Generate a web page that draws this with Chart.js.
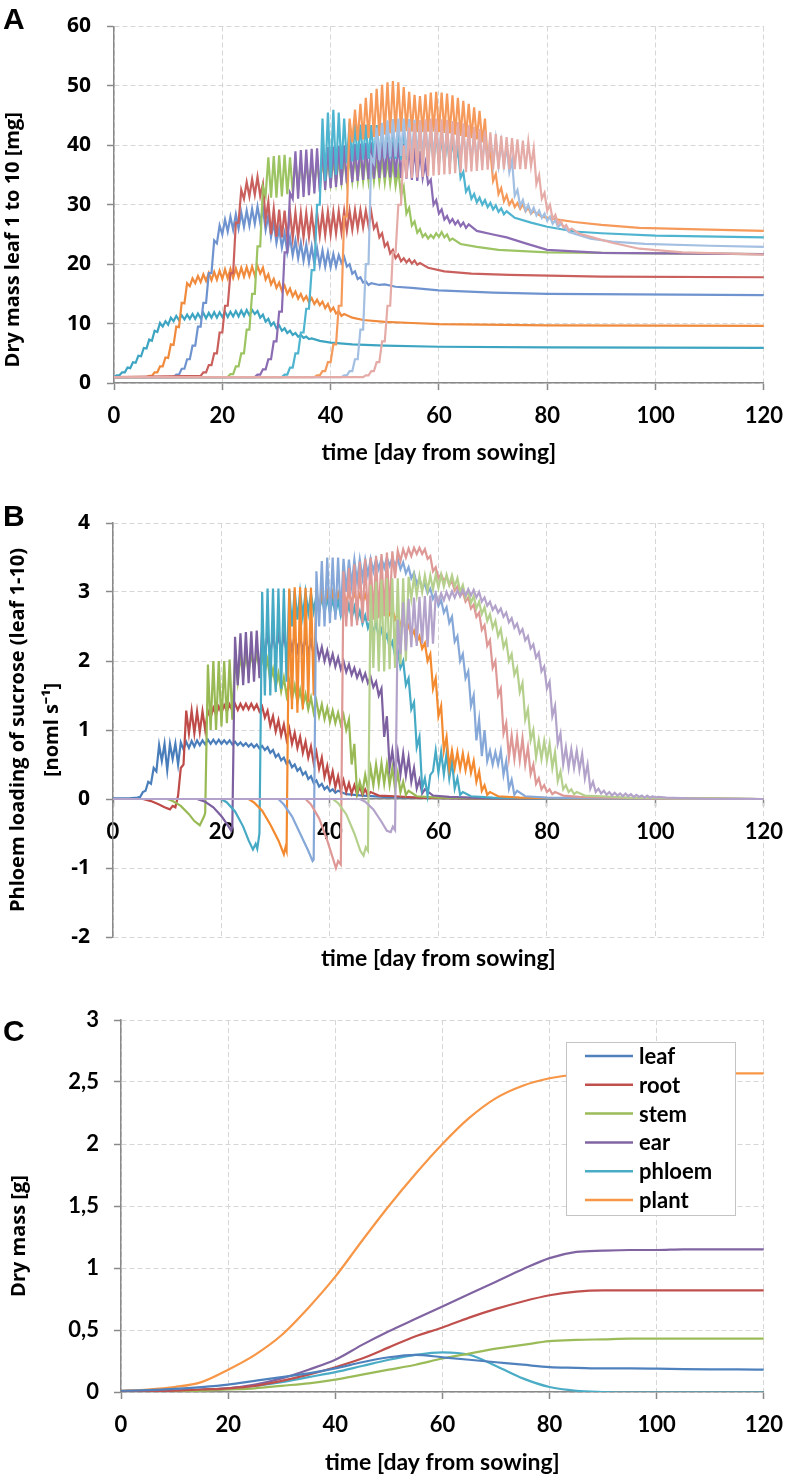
<!DOCTYPE html>
<html>
<head>
<meta charset="utf-8">
<script src="https://cdn.jsdelivr.net/npm/chart.js@4.4.1/dist/chart.umd.min.js"></script>
<style>
    body { margin: 0; background: #fff; }
    #page { position: relative; width: 796px; height: 1476px; overflow: hidden; }
    canvas { position: absolute; left: 0; }
    .panel { position: absolute; left: 3px; font: bold 30px "Liberation Sans", Arial, sans-serif; line-height: 30px; color: #000; }
</style>
</head>
<body>
<div id="page">
    <canvas id="graficoA" width="796" height="466" style="top:0px"></canvas>
    <canvas id="graficoB" width="796" height="506" style="top:466px"></canvas>
    <canvas id="graficoC" width="796" height="504" style="top:972px"></canvas>
    <div class="panel" style="top:4px">A</div>
    <div class="panel" style="top:501px">B</div>
    <div class="panel" style="top:1016px">C</div>
</div>
<script>
// tick labels
const xTickLabels = ["0", "20", "40", "60", "80", "100", "120"];
const aYTickLabels = ["0", "10", "20", "30", "40", "50", "60"];
const bYTickLabels = ["-2", "-1", "0", "1", "2", "3", "4"];
const cYTickLabels = ["0", "0,5", "1", "1,5", "2", "2,5", "3"];

// ---- Panel A: dry mass of leaf 1..10 [mg]
// values alternate night (whole day) / midday (day + 0.5), starting at startsA[i]
const baseA = 1;
const startsA = [0, 6, 11, 16, 21, 26, 31, 37, 42, 46];

const leafA1 = [
    1.0, 1.3, 1.3, 1.8, 1.8, 2.6, 2.5, 3.5, 3.4, 4.6,
    4.5, 5.9, 5.8, 7.3, 7.1, 8.8, 8.6, 10.1, 9.5, 10.4,
    9.8, 11.0, 10.4, 11.3, 10.6, 11.4, 10.7, 11.5, 10.8, 11.6,
    10.8, 11.7, 10.9, 11.8, 10.9, 11.8, 11.0, 11.9, 11.0, 11.9,
    11.1, 12.0, 11.1, 12.0, 11.2, 12.1, 11.2, 12.2, 11.3, 12.3,
    11.4, 12.3, 11.6, 12.1, 11.0, 11.5, 10.3, 10.8, 9.7, 10.2,
    9.2, 9.7, 8.8, 9.2, 8.4, 8.8, 8.1, 8.4, 7.8, 8.1,
    7.6, 7.8, 7.4, 7.5,
];
const leafA2 = [
    1.0, 1.2, 1.2, 1.8, 1.8, 2.8, 2.8, 4.3, 4.2, 6.5,
    6.4, 9.5, 9.4, 13.5, 13.4, 16.8, 16.3, 17.6, 16.8, 18.0,
    17.0, 18.3, 17.2, 18.5, 17.3, 18.7, 17.4, 18.9, 17.5, 19.1,
    17.6, 19.2, 17.7, 19.3, 17.8, 19.4, 17.9, 19.5, 18.0, 19.6,
    18.1, 19.7, 18.4, 19.4, 17.4, 18.3, 16.6, 17.5, 16.0, 16.9,
    15.5, 16.4, 15.0, 15.9, 14.6, 15.4, 14.2, 15.0, 13.9, 14.6,
    13.6, 14.3, 13.3, 14.0, 13.1, 13.7, 12.6, 13.3, 12.1, 12.7,
    11.7, 12.1, 11.3, 11.6,
];
const leafA3 = [
    1.0, 1.4, 1.4, 2.4, 2.4, 4.0, 4.0, 6.3, 6.3, 9.5,
    9.5, 13.5, 13.5, 18.5, 18.5, 24.0, 23.5, 26.5, 25.0, 27.5,
    25.5, 28.0, 25.8, 28.4, 26.0, 28.7, 26.3, 29.0, 26.5, 29.3,
    26.8, 29.7, 27.0, 29.5, 25.8, 28.2, 24.6, 27.0, 23.6, 26.0,
    22.8, 25.2, 22.0, 24.5, 21.5, 24.0, 21.0, 23.6, 20.6, 23.3,
    20.3, 23.0, 20.0, 22.6, 19.8, 22.3, 19.6, 22.0, 19.5, 21.7,
    19.6, 21.5, 20.2, 21.2, 19.6, 20.0, 18.4, 18.8, 17.5, 17.8,
    16.9, 17.1, 16.5, 16.8,
];
const leafA4 = [
    1.2, 1.8, 1.8, 3.0, 3.0, 5.0, 5.0, 8.5, 8.5, 13.0,
    13.0, 18.5, 18.5, 27.0, 27.0, 32.5, 31.0, 33.8, 31.4, 34.3,
    31.7, 34.7, 31.5, 33.5, 27.5, 30.5, 25.0, 29.3, 24.6, 29.2,
    24.5, 29.0, 24.4, 28.8, 24.4, 28.7, 24.4, 28.6, 24.5, 28.6,
    24.6, 28.6, 24.7, 28.7, 24.8, 28.7, 24.9, 28.8, 25.0, 28.8,
    25.2, 28.9, 25.4, 29.0, 25.6, 29.0, 25.8, 29.1, 26.0, 29.1,
    26.2, 29.0, 26.4, 28.8, 26.0, 26.8, 24.5, 25.2, 23.0, 23.6,
    21.8, 22.4, 21.0, 21.6, 20.5, 21.0, 20.3, 20.8, 20.1, 20.6,
    19.9, 20.2,
];
const leafA5 = [
    1.0, 1.5, 1.5, 2.8, 2.8, 5.0, 5.0, 9.0, 9.0, 15.0,
    15.0, 23.0, 23.0, 33.0, 31.5, 38.0, 31.2, 38.2, 31.2, 38.3,
    31.4, 38.4, 31.8, 38.0, 32.2, 37.5, 32.5, 37.3, 32.8, 37.2,
    33.0, 37.2, 33.2, 37.3, 33.4, 37.4, 33.5, 37.5, 33.6, 37.6,
    33.7, 37.7, 33.8, 37.8, 33.9, 37.9, 34.0, 38.0, 34.0, 38.0,
    34.0, 38.0, 34.0, 38.0, 34.0, 37.9, 33.9, 37.8, 33.8, 37.6,
    33.6, 37.2, 33.2, 36.0, 31.5, 33.0, 28.5, 29.5, 26.5, 27.2,
    25.3, 25.9, 24.6, 25.1, 24.3, 24.9, 24.4, 25.2, 24.6, 25.4,
    24.5, 25.0, 24.0, 24.3,
];
const leafA6 = [
    1.0, 1.4, 1.4, 2.3, 2.3, 4.0, 4.0, 7.0, 7.0, 12.0,
    12.0, 22.0, 22.0, 32.0, 31.0, 39.0, 31.0, 39.2, 31.3, 39.3,
    31.6, 39.4, 31.9, 39.5, 32.2, 39.6, 32.5, 39.7, 32.8, 39.8,
    33.0, 39.9, 33.3, 40.0, 33.6, 40.1, 33.8, 40.2, 34.0, 40.3,
    34.2, 40.4, 34.3, 40.5, 34.4, 40.5, 34.5, 40.6, 34.6, 40.6,
    34.6, 40.6, 34.6, 40.5, 34.5, 40.3, 34.4, 40.0, 34.2, 39.6,
    34.0, 39.0, 34.5, 37.0, 33.5, 34.2, 30.0, 30.8, 28.5, 29.2,
    27.5, 28.1, 27.0, 27.6, 26.7, 27.3, 26.4, 27.0, 26.1, 26.7,
];
const leafA7 = [
    1.0, 1.4, 1.4, 2.6, 2.6, 5.0, 5.0, 8.5, 8.5, 12.5,
    12.5, 19.0, 19.0, 30.0, 30.0, 44.5, 34.0, 45.5, 34.5, 46.0,
    35.0, 45.5, 36.0, 44.5, 37.0, 43.8, 37.3, 43.6, 37.5, 43.5,
    37.6, 43.5, 37.7, 43.4, 37.8, 43.4, 37.8, 43.3, 37.8, 43.2,
    37.8, 43.1, 37.7, 43.0, 37.6, 42.9, 37.5, 42.8, 37.4, 42.7,
    37.3, 42.5, 37.2, 42.3, 37.1, 42.1, 37.0, 41.9, 36.9, 41.6,
    36.8, 41.3, 36.7, 41.0, 37.0, 39.5, 34.5, 35.5, 32.2, 33.0,
    31.0, 31.8, 30.4, 31.2, 30.0, 30.8, 29.6, 30.3, 29.2, 29.9,
    28.8, 29.4, 28.4, 28.9,
];
const leafA8 = [
    1.0, 1.3, 1.3, 2.0, 2.0, 3.5, 3.5, 6.5, 6.5, 13.0,
    13.0, 28.0, 28.0, 44.5, 40.5, 46.0, 40.8, 47.0, 41.0, 48.0,
    41.2, 48.8, 41.4, 49.5, 41.6, 50.2, 41.8, 50.6, 42.0, 50.8,
    42.2, 50.6, 42.3, 49.8, 42.4, 49.0, 42.3, 48.5, 42.2, 48.3,
    42.2, 48.6, 42.3, 48.9, 42.3, 49.0, 42.2, 48.9, 42.1, 48.7,
    42.0, 48.4, 41.8, 48.0, 41.6, 47.5, 41.4, 47.0, 41.2, 46.4,
    41.0, 45.8, 40.5, 44.5, 37.5, 39.0, 34.0, 35.2, 31.8, 32.8,
    30.6, 31.6, 30.0, 30.8, 29.6, 30.3, 29.3, 30.1, 28.9, 29.5,
    28.5, 28.9,
];
const leafA9 = [
    1.0, 1.3, 1.3, 2.0, 2.0, 4.0, 4.0, 9.0, 9.0, 20.0,
    20.0, 38.0, 37.0, 43.0, 37.5, 43.8, 37.8, 44.2, 38.0, 44.4,
    38.1, 44.5, 38.2, 44.5, 38.2, 44.4, 38.2, 44.3, 38.2, 44.2,
    38.1, 44.0, 38.0, 43.8, 37.9, 43.6, 37.8, 43.4, 37.7, 43.2,
    37.6, 43.0, 37.5, 42.8, 37.4, 42.6, 37.3, 42.4, 37.2, 42.2,
    37.1, 42.0, 37.0, 41.7, 36.9, 41.4, 36.8, 41.0, 36.7, 40.5,
    36.6, 39.8, 35.5, 37.5, 31.5, 32.5, 29.8, 30.8, 29.0, 30.0,
    28.6, 29.5, 28.2, 29.0, 27.8, 28.5, 27.3, 28.0, 26.8, 27.4,
    26.2, 26.8,
];
const leafA10 = [
    1.0, 1.3, 1.3, 2.0, 2.0, 3.5, 3.5, 7.0, 7.0, 13.0,
    13.0, 22.0, 22.0, 30.0, 30.0, 40.0, 34.5, 43.0, 34.5, 43.8,
    34.6, 44.2, 34.7, 44.4, 34.8, 44.5, 34.9, 44.5, 35.0, 44.4,
    35.1, 44.3, 35.2, 44.1, 35.3, 43.9, 35.4, 43.7, 35.5, 43.4,
    35.6, 43.1, 35.7, 42.8, 35.8, 42.5, 35.9, 42.2, 36.0, 41.9,
    36.0, 41.6, 36.0, 41.4, 36.0, 41.2, 36.0, 41.0, 36.0, 40.8,
    36.0, 40.6, 36.5, 39.5, 33.5, 35.0, 31.0, 32.0, 29.0, 30.0,
    27.6, 28.3, 26.8, 27.3, 26.2, 26.6, 25.7, 26.0,
];

const tailA1 = [[38, 7.1], [40, 6.8], [44, 6.5], [50, 6.3], [60, 6.1], [80, 6.0], [120, 5.9]];
const tailA2 = [[44, 11.0], [46, 10.6], [50, 10.3], [55, 10.1], [60, 9.9], [80, 9.7], [120, 9.6]];
const tailA3 = [[49, 16.5], [50, 16.6], [52, 16.2], [55, 16.0], [60, 15.6], [70, 15.2], [80, 15.0], [120, 14.8]];
const tailA4 = [[58, 19.4], [61, 18.8], [66, 18.4], [73, 18.2], [90, 17.9], [120, 17.8]];
const tailA5 = [[64, 23.4], [67, 22.9], [71, 22.4], [80, 22.0], [100, 21.8], [120, 21.7]];
const tailA6 = [[67, 25.6], [70, 25.0], [72.5, 24.5], [76, 23.5], [80, 22.4], [90, 21.9], [120, 21.7]];
const tailA7 = [[74, 27.8], [77, 27.0], [80, 26.3], [85, 25.5], [90, 25.2], [100, 24.8], [120, 24.5]];
const tailA8 = [[79, 28.0], [82, 27.5], [85, 27.1], [90, 26.6], [97, 26.1], [110, 25.8], [120, 25.6]];
const tailA9 = [[84, 25.4], [88, 24.3], [92, 23.8], [98, 23.4], [110, 23.1], [120, 22.9]];
const tailA10 = [[86, 25.1], [88, 24.6], [92, 23.6], [97, 22.6], [105, 22.0], [120, 21.6]];

const colorsA = ["#3DA5C2", "#F08A3C", "#6F93CF", "#C9605D", "#9DC463", "#8B6CB3", "#4FB4CF", "#F69A5B", "#A3BFE2", "#E5ABA7"];

// ---- Panel B: phloem loading of sucrose, leaf 1..10
const startsB = [5, 12, 17, 22, 27, 32, 37, 42, 47, 52];

const headB1 = [[0, 0.01], [3, 0.01], [4.5, 0.02]];
const headB2 = [[0, 0], [5.5, 0], [7, -0.03], [8.5, -0.08], [9.5, -0.12], [10.5, -0.15], [11, -0.1], [11.5, -0.12]];
const headB3 = [[0, 0], [10, 0], [11, -0.03], [12.5, -0.1], [14, -0.22], [15, -0.32], [16, -0.38], [16.5, -0.3], [16.8, -0.25]];
const headB4 = [[0, 0], [15.5, 0], [17, -0.04], [18.5, -0.12], [20, -0.25], [21, -0.36], [21.8, -0.46]];
const headB5 = [[0, 0], [20, 0], [21, -0.05], [22.5, -0.18], [24, -0.4], [25, -0.6], [25.8, -0.73], [26.3, -0.65], [26.6, -0.72]];
const headB6 = [[0, 0], [25, 0], [26, -0.05], [27.5, -0.17], [29, -0.37], [30.5, -0.6], [31.5, -0.8], [31.8, -0.7]];
const headB7 = [[0, 0], [30.5, 0], [31.5, -0.08], [33, -0.25], [34.5, -0.5], [36, -0.75], [36.8, -0.9]];
const headB8 = [[0, 0], [35.5, 0], [36.5, -0.08], [38, -0.28], [39.5, -0.6], [40.5, -0.85], [41.1, -1.0], [41.5, -0.9]];
const headB9 = [[0, 0], [40.5, 0], [41.5, -0.06], [43, -0.22], [44.5, -0.5], [45.6, -0.75], [46.2, -0.82], [46.6, -0.7]];
const headB10 = [[0, 0], [45.5, 0], [46.5, -0.04], [48, -0.15], [49.5, -0.33], [50.5, -0.46], [51.2, -0.48], [51.6, -0.4]];

const leafB1 = [
    0.03, 0.1, 0.12, 0.25, 0.22, 0.45, 0.4, 0.78, 0.55, 0.8,
    0.42, 0.8, 0.58, 0.8, 0.5, 0.82, 0.72, 0.83, 0.74, 0.84,
    0.76, 0.85, 0.78, 0.85, 0.79, 0.86, 0.8, 0.86, 0.8, 0.86,
    0.8, 0.85, 0.8, 0.85, 0.79, 0.83, 0.78, 0.82, 0.77, 0.81,
    0.76, 0.8, 0.75, 0.79, 0.73, 0.77, 0.71, 0.75, 0.67, 0.71,
    0.61, 0.65, 0.56, 0.6, 0.51, 0.55, 0.46, 0.5, 0.41, 0.45,
    0.35, 0.39, 0.29, 0.33, 0.23, 0.27, 0.18, 0.22, 0.14, 0.18,
    0.11, 0.14, 0.09, 0.12,
];
const leafB2 = [
    0.05, 0.45, 0.5, 1.28, 0.95, 1.28, 0.95, 1.27, 0.97, 1.27,
    1.0, 1.28, 1.18, 1.32, 1.22, 1.34, 1.25, 1.36, 1.27, 1.37,
    1.28, 1.38, 1.29, 1.38, 1.3, 1.38, 1.3, 1.38, 1.3, 1.37,
    1.27, 1.34, 1.18, 1.28, 1.06, 1.2, 0.98, 1.14, 0.92, 1.08,
    0.86, 1.02, 0.8, 0.96, 0.74, 0.9, 0.67, 0.83, 0.6, 0.76,
    0.52, 0.68, 0.44, 0.6, 0.32, 0.48, 0.24, 0.4, 0.17, 0.33,
    0.12, 0.27, 0.1, 0.23, 0.08, 0.2, 0.07, 0.18, 0.06, 0.14,
    0.05, 0.1,
];
const leafB3 = [
    -0.2, 1.95, 1.0, 2.0, 1.0, 2.0, 1.05, 2.0, 1.1, 2.02,
    1.15, 2.05, 1.7, 2.08, 1.8, 2.1, 1.85, 2.1, 1.88, 2.1,
    1.9, 2.08, 1.85, 2.02, 1.7, 1.88, 1.62, 1.82, 1.56, 1.76,
    1.5, 1.7, 1.45, 1.64, 1.4, 1.58, 1.35, 1.52, 1.3, 1.47,
    1.25, 1.42, 1.2, 1.37, 1.16, 1.32, 1.12, 1.28, 1.1, 1.25,
    1.08, 1.22, 1.0, 1.15, 0.5, 0.8, 0.08, 0.25, 0.1, 0.35,
    0.15, 0.45, 0.2, 0.5, 0.22, 0.52, 0.22, 0.5, 0.2, 0.45,
    0.15, 0.38, 0.1, 0.25, 0.06, 0.12,
];
const leafB4 = [
    -0.4, 2.35, 1.65, 2.4, 1.65, 2.42, 1.68, 2.43, 1.7, 2.44,
    1.75, 2.44, 2.05, 2.42, 2.08, 2.4, 2.1, 2.4, 2.12, 2.38,
    2.14, 2.38, 2.15, 2.37, 2.15, 2.35, 2.14, 2.33, 2.12, 2.3,
    2.08, 2.26, 2.04, 2.2, 2.0, 2.15, 1.96, 2.1, 1.92, 2.05,
    1.88, 2.0, 1.84, 1.95, 1.8, 1.9, 1.76, 1.86, 1.72, 1.82,
    1.68, 1.77, 1.62, 1.7, 1.5, 1.6, 0.9, 1.2, 0.45, 0.7,
    0.38, 0.68, 0.36, 0.66, 0.34, 0.6, 0.25, 0.45, 0.15, 0.28,
    0.08, 0.14,
];
const leafB5 = [
    -0.5, 3.0, 1.5, 3.05, 1.5, 3.05, 1.55, 3.05, 1.6, 3.05,
    1.7, 3.03, 2.5, 3.02, 2.6, 3.0, 2.65, 3.0, 2.7, 2.98,
    2.72, 2.96, 2.72, 2.94, 2.7, 2.92, 2.7, 2.9, 2.68, 2.88,
    2.66, 2.85, 2.64, 2.82, 2.62, 2.78, 2.58, 2.72, 2.54, 2.66,
    2.48, 2.6, 2.42, 2.54, 2.36, 2.46, 2.28, 2.38, 2.2, 2.28,
    2.08, 2.16, 1.9, 2.0, 1.65, 1.75, 1.3, 1.4, 0.75, 0.9,
    0.15, 0.3, 0.05, 0.35, 0.4, 0.7, 0.38, 0.68, 0.36, 0.66,
    0.3, 0.55, 0.15, 0.3, 0.06, 0.1,
];
const leafB6 = [
    -0.75, 3.05, 1.3, 3.07, 1.25, 3.07, 1.3, 3.06, 1.4, 3.06,
    1.5, 3.05, 2.7, 3.02, 2.8, 3.0, 2.82, 3.0, 2.84, 2.99,
    2.85, 2.99, 2.86, 2.98, 2.86, 2.98, 2.85, 2.97, 2.84, 2.96,
    2.83, 2.95, 2.82, 2.93, 2.8, 2.9, 2.74, 2.82, 2.68, 2.76,
    2.6, 2.68, 2.52, 2.6, 2.44, 2.52, 2.36, 2.44, 2.28, 2.36,
    2.18, 2.26, 2.0, 2.1, 1.6, 1.75, 1.2, 1.35, 0.7, 0.9,
    0.45, 0.7, 0.45, 0.68, 0.44, 0.66, 0.42, 0.62, 0.38, 0.55,
    0.25, 0.4, 0.12, 0.2, 0.06, 0.1,
];
const leafB7 = [
    -0.88, 3.3, 2.5, 3.45, 2.5, 3.5, 2.55, 3.5, 2.6, 3.5,
    2.65, 3.48, 3.0, 3.47, 3.1, 3.47, 3.15, 3.47, 3.2, 3.47,
    3.25, 3.48, 3.3, 3.48, 3.33, 3.49, 3.35, 3.5, 3.38, 3.5,
    3.38, 3.48, 3.33, 3.43, 3.27, 3.36, 3.2, 3.28, 3.12, 3.2,
    3.05, 3.12, 2.98, 3.05, 2.9, 2.98, 2.8, 2.88, 2.7, 2.78,
    2.55, 2.64, 2.28, 2.36, 2.0, 2.1, 1.75, 1.85, 1.35, 1.5,
    0.85, 1.15, 0.62, 1.0, 0.55, 0.7, 0.5, 0.68, 0.5, 0.7,
    0.35, 0.55, 0.15, 0.28, 0.06, 0.12,
];
const leafB8 = [
    -0.95, 3.3, 2.5, 3.35, 2.5, 3.4, 2.52, 3.44, 2.55, 3.48,
    2.58, 3.5, 2.6, 3.52, 2.62, 3.55, 2.65, 3.57, 2.7, 3.59,
    3.2, 3.6, 3.45, 3.62, 3.5, 3.63, 3.52, 3.64, 3.55, 3.64,
    3.55, 3.62, 3.48, 3.52, 3.3, 3.36, 3.2, 3.26, 3.16, 3.22,
    3.1, 3.16, 3.02, 3.08, 2.94, 3.0, 2.86, 2.92, 2.76, 2.82,
    2.64, 2.7, 2.45, 2.52, 2.22, 2.3, 1.9, 2.0, 1.5, 1.6,
    0.95, 1.1, 0.6, 0.92, 0.58, 0.9, 0.56, 0.88, 0.5, 0.75,
    0.36, 0.5, 0.22, 0.3, 0.14, 0.2, 0.1, 0.14, 0.07, 0.1,
];
const leafB9 = [
    -0.75, 3.1, 1.9, 3.15, 1.85, 3.18, 1.85, 3.2, 1.88, 3.2,
    1.9, 3.2, 1.95, 3.2, 2.0, 3.22, 2.9, 3.22, 2.95, 3.23,
    3.0, 3.24, 3.02, 3.24, 3.04, 3.25, 3.06, 3.25, 3.08, 3.25,
    3.1, 3.24, 3.08, 3.2, 3.0, 3.1, 2.92, 3.02, 2.84, 2.94,
    2.76, 2.86, 2.68, 2.78, 2.58, 2.68, 2.48, 2.58, 2.36, 2.46,
    2.2, 2.3, 2.0, 2.1, 1.8, 1.9, 1.55, 1.68, 1.15, 1.3,
    0.85, 1.0, 0.6, 0.85, 0.58, 0.84, 0.56, 0.8, 0.45, 0.68,
    0.26, 0.4, 0.14, 0.2, 0.1, 0.14, 0.07, 0.1,
];
const leafB10 = [
    -0.45, 2.6, 2.1, 2.85, 2.15, 2.9, 2.2, 2.92, 2.22, 2.93,
    2.25, 2.94, 2.2, 2.95, 2.25, 2.96, 2.85, 2.98, 2.88, 3.0,
    2.9, 3.01, 2.92, 3.02, 2.94, 3.03, 2.95, 3.04, 2.95, 3.03,
    2.92, 3.0, 2.86, 2.92, 2.8, 2.86, 2.74, 2.8, 2.7, 2.76,
    2.64, 2.7, 2.56, 2.62, 2.48, 2.54, 2.4, 2.46, 2.3, 2.36,
    2.18, 2.24, 2.05, 2.12, 1.85, 1.92, 1.6, 1.7, 1.2, 1.35,
    0.8, 0.95, 0.5, 0.75, 0.45, 0.72, 0.45, 0.7, 0.42, 0.65,
    0.3, 0.5, 0.15, 0.25, 0.1, 0.15, 0.08, 0.12, 0.06, 0.1,
    0.05, 0.09, 0.05, 0.08, 0.04, 0.08, 0.04, 0.07, 0.03, 0.06,
    0.03, 0.05, 0.02, 0.05, 0.02, 0.04, 0.02, 0.03,
];

const tailB1 = [[43, 0.07], [46, 0.05], [50, 0.03], [55, 0.02], [65, 0.01], [120, 0]];
const tailB2 = [[49, 0.05], [52, 0.04], [56, 0.02], [65, 0.01], [120, 0]];
const tailB3 = [[56, 0.04], [60, 0.02], [70, 0.01], [120, 0]];
const tailB4 = [[59, 0.05], [62, 0.03], [70, 0.01], [120, 0]];
const tailB5 = [[66, 0.04], [70, 0.02], [80, 0.01], [120, 0]];
const tailB6 = [[71, 0.04], [75, 0.02], [85, 0.01], [120, 0]];
const tailB7 = [[76, 0.04], [80, 0.02], [90, 0.01], [120, 0]];
const tailB8 = [[83, 0.05], [86, 0.03], [92, 0.02], [100, 0.01], [120, 0]];
const tailB9 = [[87, 0.05], [90, 0.04], [95, 0.02], [105, 0.01], [120, 0]];
const tailB10 = [[102, 0.02], [106, 0.01], [110, 0], [120, 0]];

const colorsB = ["#4A7EBB", "#BE4B48", "#98B954", "#7D60A0", "#46AAC5", "#F38A30", "#86A8D8", "#DE9896", "#B5D08C", "#B3A3CA"];

// ---- Panel C: dry mass of organs [g]
const cDays = [0, 5, 10, 15, 20, 25, 30, 35, 40, 45, 50, 55, 60, 65, 70, 75, 80, 85, 90, 95, 100, 105, 110, 115, 120];
const cLeaf = [0.01, 0.015, 0.025, 0.04, 0.06, 0.09, 0.12, 0.15, 0.19, 0.24, 0.28, 0.3, 0.28, 0.26, 0.24, 0.22, 0.2, 0.195, 0.19, 0.19, 0.188, 0.185, 0.183, 0.182, 0.18];
const cRoot = [0, 0.005, 0.01, 0.02, 0.03, 0.05, 0.09, 0.14, 0.2, 0.27, 0.36, 0.45, 0.52, 0.6, 0.67, 0.73, 0.78, 0.81, 0.82, 0.82, 0.82, 0.82, 0.82, 0.82, 0.82];
const cStem = [0, 0.002, 0.005, 0.01, 0.02, 0.03, 0.05, 0.07, 0.1, 0.14, 0.18, 0.22, 0.27, 0.31, 0.35, 0.38, 0.41, 0.42, 0.425, 0.43, 0.43, 0.43, 0.43, 0.43, 0.43];
const cEar = [0, 0.005, 0.01, 0.02, 0.03, 0.06, 0.11, 0.18, 0.26, 0.38, 0.49, 0.59, 0.69, 0.79, 0.89, 0.99, 1.08, 1.13, 1.14, 1.145, 1.145, 1.15, 1.15, 1.15, 1.15];
const cPhloem = [0, 0.003, 0.008, 0.015, 0.03, 0.05, 0.08, 0.12, 0.16, 0.21, 0.26, 0.3, 0.32, 0.3, 0.21, 0.11, 0.04, 0.01, 0, -0.005, -0.005, -0.005, -0.005, -0.005, -0.005];
const cPlant = [0.01, 0.02, 0.04, 0.08, 0.18, 0.3, 0.46, 0.68, 0.93, 1.22, 1.5, 1.76, 2.0, 2.21, 2.37, 2.47, 2.53, 2.56, 2.565, 2.57, 2.57, 2.57, 2.57, 2.57, 2.57];
const cLabels = ["leaf", "root", "stem", "ear", "phloem", "plant"];
const colorsC = ["#4F81BD", "#C0504D", "#9BBB59", "#8064A2", "#4BACC6", "#F79646"];

// ---- styles
const gridColor = "#d6d6d6";
const axisColor = "#898989";
const gridDash = [5, 3];
const tickFontX = { family: "Lato", size: 22, weight: "bold" };
const tickFontY = { family: "Open Sans", size: 21, weight: "bold", lineHeight: 1 };
const titleFontX = { family: "Lato", size: 23, weight: "bold" };
const titleFontY = { family: "Open Sans", size: 20, weight: "bold" };

Chart.defaults.font.family = "Lato";
Chart.defaults.color = "#000";

// turns a head, a day/midday sequence and a tail into points
function buildSeries(head, start, zig, tail) {
    const points = head.map(([x, y]) => ({ x, y }));
    zig.forEach((y, i) => points.push({ x: start + i / 2, y }));
    tail.forEach(([x, y]) => points.push({ x, y }));
    return points;
}

function gridOpts(extra) {
    return Object.assign({ color: gridColor, lineWidth: 1, tickColor: axisColor, tickLength: 7, tickWidth: 1.5, tickBorderDash: [] }, extra || {});
}
function borderOpts(extra) {
    return Object.assign({ color: axisColor, width: 1.5, dash: gridDash }, extra || {});
}

const baseOptions = {
    responsive: false,
    animation: false,
    events: [],
    plugins: { legend: { display: false }, tooltip: { enabled: false } },
    elements: { point: { radius: 0 }, line: { tension: 0 } },
};

// Gráfico A
const zigA = [leafA1, leafA2, leafA3, leafA4, leafA5, leafA6, leafA7, leafA8, leafA9, leafA10];
const tailsA = [tailA1, tailA2, tailA3, tailA4, tailA5, tailA6, tailA7, tailA8, tailA9, tailA10];
const datasetsA = zigA.map((zig, i) => ({
    label: "leaf " + (i + 1),
    data: buildSeries(startsA[i] > 0 ? [[0, baseA]] : [], startsA[i], zig, tailsA[i]),
    borderColor: colorsA[i],
    borderWidth: 2.2,
    order: 10 - i,
}));

new Chart(document.getElementById("graficoA"), {
    type: "line",
    data: { datasets: datasetsA },
    options: Object.assign({}, baseOptions, {
        layout: { padding: { top: 10, right: 27, left: 0, bottom: 0 } },
        scales: {
            x: {
                type: "linear", min: 0, max: 120,
                ticks: { stepSize: 20, autoSkip: false, maxRotation: 0, padding: 13, color: "#000", font: tickFontX, callback: (v, i) => xTickLabels[i] },
                grid: gridOpts(),
                border: borderOpts(),
                title: { display: true, text: "time [day from sowing]", color: "#000", font: titleFontX, padding: 0 },
                afterFit: (s) => { s.height = 83; },
            },
            y: {
                type: "linear", min: 0, max: 60,
                ticks: { stepSize: 10, padding: 16, color: "#000", font: tickFontY, callback: (v, i) => aYTickLabels[i] },
                grid: gridOpts(),
                border: borderOpts(),
                title: { display: true, text: "Dry mass leaf 1 to 10 [mg]" + "\u2002".repeat(7), color: "#000", font: titleFontY, padding: { top: 1, bottom: 0 } },
                afterFit: (s) => { s.width = 114; },
            },
        },
    }),
});

// Gráfico B
const headsB = [headB1, headB2, headB3, headB4, headB5, headB6, headB7, headB8, headB9, headB10];
const zigB = [leafB1, leafB2, leafB3, leafB4, leafB5, leafB6, leafB7, leafB8, leafB9, leafB10];
const tailsB = [tailB1, tailB2, tailB3, tailB4, tailB5, tailB6, tailB7, tailB8, tailB9, tailB10];
const datasetsB = zigB.map((zig, i) => ({
    label: "leaf " + (i + 1),
    data: buildSeries(headsB[i], startsB[i], zig, tailsB[i]),
    borderColor: colorsB[i],
    borderWidth: 2.2,
    xAxisID: "x",
    yAxisID: "y",
    order: 10 - i,
}));

new Chart(document.getElementById("graficoB"), {
    type: "line",
    data: { datasets: datasetsB },
    options: Object.assign({}, baseOptions, {
        layout: { padding: { top: 57, right: 26, left: 0, bottom: 0 } },
        scales: {
            // axis line and labels crossing at zero
            x: {
                type: "linear", min: 0, max: 120, position: { y: 0 }, z: 1,
                ticks: { stepSize: 20, autoSkip: false, maxRotation: 0, padding: 13, color: "#000", font: tickFontX,
                         textStrokeColor: "#fff", textStrokeWidth: 4, callback: (v, i) => xTickLabels[i] },
                grid: gridOpts({ drawOnChartArea: false }),
                border: borderOpts(),
                afterFit: (s) => { s.height = 0; },
            },
            // vertical grid and title at the bottom
            xg: {
                type: "linear", min: 0, max: 120, position: "bottom",
                ticks: { stepSize: 20, display: false },
                grid: gridOpts({ drawTicks: false }),
                border: borderOpts({ display: false }),
                title: { display: true, text: "time [day from sowing]", color: "#000", font: titleFontX, padding: 0 },
                afterFit: (s) => { s.height = 35; },
            },
            y: {
                type: "linear", min: -2, max: 4,
                ticks: { stepSize: 1, padding: 16, color: "#000", font: tickFontY, callback: (v, i) => bYTickLabels[i] },
                grid: gridOpts(),
                border: borderOpts(),
                title: { display: true, text: ["Phloem loading of sucrose (leaf 1-10)", "[noml s\u207B\u00B9]"], color: "#000",
                         font: { family: "Open Sans", size: 20, weight: "bold", lineHeight: 1.7 }, padding: { top: 1, bottom: 0 } },
                afterFit: (s) => { s.width = 113; },
            },
        },
    }),
});

// Gráfico C
const seriesC = [cLeaf, cRoot, cStem, cEar, cPhloem, cPlant];
const datasetsC = seriesC.map((values, i) => ({
    label: cLabels[i],
    data: values.map((y, k) => ({ x: cDays[k], y })),
    borderColor: colorsC[i],
    borderWidth: 2.2,
    cubicInterpolationMode: "monotone",
}));

const legendBox = {
    id: "legendBox",
    afterDatasetsDraw(chart) {
        const ctx = chart.ctx;
        ctx.save();
        ctx.fillStyle = "#fff";
        ctx.strokeStyle = "#c4c4c4";
        ctx.lineWidth = 1;
        ctx.fillRect(566.5, 70.5, 169, 173);
        ctx.strokeRect(566.5, 70.5, 169, 173);
        ctx.font = "bold 22px Lato";
        ctx.textBaseline = "middle";
        chart.data.datasets.forEach((ds, i) => {
            const y = 84 + i * 28.8;
            ctx.strokeStyle = ds.borderColor;
            ctx.lineWidth = 2.5;
            ctx.beginPath();
            ctx.moveTo(585, y);
            ctx.lineTo(633, y);
            ctx.stroke();
            ctx.fillStyle = "#000";
            ctx.fillText(ds.label, 639, y + 1);
        });
        ctx.restore();
    },
};

new Chart(document.getElementById("graficoC"), {
    type: "line",
    data: { datasets: datasetsC },
    plugins: [legendBox],
    options: Object.assign({}, baseOptions, {
        layout: { padding: { top: 48, right: 26, left: 0, bottom: 0 } },
        scales: {
            x: {
                type: "linear", min: 0, max: 120,
                ticks: { stepSize: 20, autoSkip: false, maxRotation: 0, padding: 13, color: "#000", font: tickFontX, callback: (v, i) => xTickLabels[i] },
                grid: gridOpts(),
                border: borderOpts(),
                title: { display: true, text: "time [day from sowing]", color: "#000", font: titleFontX, padding: 0 },
                afterFit: (s) => { s.height = 84; },
            },
            y: {
                type: "linear", min: 0, max: 3,
                ticks: { stepSize: 0.5, padding: 15, color: "#000", font: tickFontX, callback: (v, i) => cYTickLabels[i] },
                grid: gridOpts(),
                border: borderOpts(),
                title: { display: true, text: "Dry mass [g]" + "\u2002".repeat(6), color: "#000", font: titleFontY, padding: { top: 7, bottom: 0 } },
                afterFit: (s) => { s.width = 121; },
            },
        },
    }),
});
</script>
</body>
</html>
